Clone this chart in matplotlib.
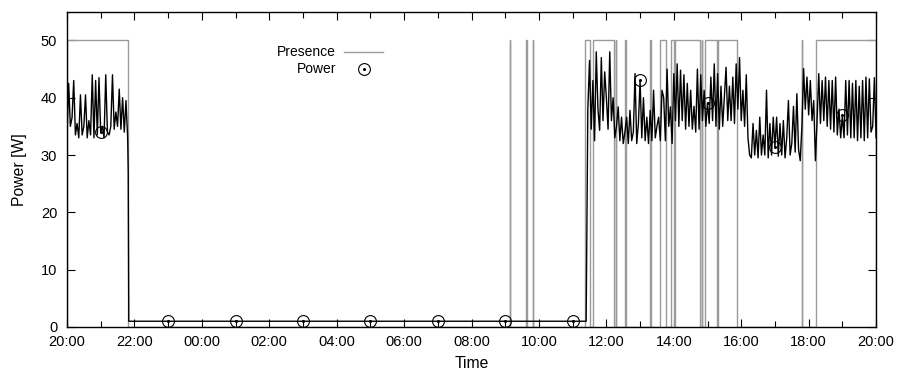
import pandas as pd
import matplotlib
matplotlib.use('Agg')
import matplotlib.pyplot as plt
import matplotlib.dates as mdates

plt.rcParams['font.family'] = ['Liberation Sans', 'DejaVu Sans']

# presence sensor: 50 while somebody is there, 0 otherwise
presence_level = 50
presence_on = ['2012-03-01 20:00', '2012-03-02 09:08', '2012-03-02 09:37', '2012-03-02 09:49',
               '2012-03-02 11:22', '2012-03-02 11:37', '2012-03-02 12:17', '2012-03-02 12:34',
               '2012-03-02 13:18', '2012-03-02 13:36', '2012-03-02 13:55', '2012-03-02 14:02',
               '2012-03-02 14:50', '2012-03-02 14:55', '2012-03-02 15:19', '2012-03-02 17:48',
               '2012-03-02 18:13']
presence_off = ['2012-03-01 21:49', '2012-03-02 09:09', '2012-03-02 09:38', '2012-03-02 09:50',
                '2012-03-02 11:30', '2012-03-02 12:14', '2012-03-02 12:18', '2012-03-02 12:35',
                '2012-03-02 13:19', '2012-03-02 13:47', '2012-03-02 14:01', '2012-03-02 14:47',
                '2012-03-02 14:51', '2012-03-02 15:17', '2012-03-02 15:52', '2012-03-02 17:49',
                '2012-03-02 20:00']

# power readings, one every 3 minutes
step = '3min'
evening_start = '2012-03-01 20:00'
power_evening = [33, 42.5, 35, 36.5, 43, 33.5, 35.5, 33, 40.5, 33.5,
                 35, 40.5, 33, 36, 33.5, 44, 33, 43, 33.5, 43.5,
                 34, 35, 33, 44, 34, 33.5, 35, 44, 34.5, 37.5,
                 35, 41.5, 34.5, 40, 34, 39.5, 33]
drop_times = ['2012-03-01 21:49', '2012-03-01 21:50']
power_drop = [27, 1]
day_start = '2012-03-02 11:24'
power_day = [1, 38, 46.5, 34.5, 43, 32.5, 48, 38, 34.3, 47,
             36, 44.5, 40, 34.5, 48, 36, 40, 33, 35, 38.4,
             32.5, 36.6, 32, 34, 36.6, 32, 37.8, 32.5, 34, 44.2,
             32, 35.5, 43, 33, 40, 32.5, 36.6, 32, 37.8, 32.5,
             41.3, 33, 35, 36.6, 32.5, 41.3, 40, 32.5, 45, 35,
             38.4, 32, 44.2, 36, 45.9, 35, 44.8, 36, 44, 34.5,
             42.5, 35, 41.3, 34.5, 38.5, 34, 45, 34.5, 44, 36,
             41.3, 35, 39.1, 35.5, 43.6, 36, 45.9, 35, 44.2, 34.5,
             42, 35, 40, 45.3, 36, 42, 36, 43.6, 35.5, 45.9,
             38, 47, 36, 41.3, 35, 44, 33, 30, 29.5, 35.5,
             30, 34.3, 29.5, 36.6, 30, 33.5, 30, 41.3, 29.5, 35.5,
             30, 36.6, 31.4, 36.6, 29.8, 35.5, 30, 36, 29.5, 33,
             39.5, 30, 32, 38.5, 30.5, 40.7, 31, 29, 35, 45.1,
             38, 43.6, 37, 43, 36, 39.5, 29, 36, 44.2, 35.5,
             43, 36, 43.6, 35, 43, 34.5, 43, 34, 43.6, 33.5,
             38, 33, 36.9, 33, 43, 33.5, 43, 33, 42.5, 33,
             43, 32.5, 42, 33, 43, 32.5, 43.6, 33, 43.3, 34,
             35, 43.5, 33]

marker_times = ['2012-03-01 21:00', '2012-03-01 23:00', '2012-03-02 01:00', '2012-03-02 03:00',
                '2012-03-02 05:00', '2012-03-02 07:00', '2012-03-02 09:00', '2012-03-02 11:00',
                '2012-03-02 13:00', '2012-03-02 15:00', '2012-03-02 17:00', '2012-03-02 19:00']
marker_values = [34, 1, 1, 1, 1, 1, 1, 1, 43.1, 39.1, 31.4, 36.9]

# build the series
t_power = list(pd.date_range(evening_start, periods=len(power_evening), freq=step))
t_power += list(pd.to_datetime(drop_times))
t_power += list(pd.date_range(day_start, periods=len(power_day), freq=step))
power = power_evening + power_drop + power_day

t_pres, pres = [], []
for on, off in zip(presence_on, presence_off):
    on, off = pd.Timestamp(on), pd.Timestamp(off)
    t_pres += [on, on, off, off]
    pres += [0, presence_level, presence_level, 0]

fig = plt.figure(figsize=(8.99, 3.78), dpi=100)
ax = fig.add_axes([0.0745, 0.135, 0.9, 0.834])

ax.plot(t_pres, pres, color='#9a9a9a', lw=1.0, zorder=2)
ax.plot(t_power, power, color='black', lw=1.0, zorder=3)
mt = pd.to_datetime(marker_times)
ax.plot(mt, marker_values, ls='none', marker='o', ms=8.5, mfc='none', mec='black', mew=0.8, zorder=4)
ax.plot(mt, marker_values, ls='none', marker='o', ms=1.2, color='black', zorder=4)

ax.set_xlim(pd.Timestamp('2012-03-01 20:00'), pd.Timestamp('2012-03-02 20:00'))
ax.set_ylim(0, 55)
ax.set_yticks([0, 10, 20, 30, 40, 50])
ax.xaxis.set_major_locator(mdates.HourLocator(byhour=range(0, 24, 2)))
ax.xaxis.set_minor_locator(mdates.HourLocator())
ax.xaxis.set_major_formatter(mdates.DateFormatter('%H:%M'))

ax.tick_params(which='both', direction='in', top=True, right=True, width=0.8, labelsize=10.5)
ax.tick_params(which='major', length=6)
ax.tick_params(which='minor', length=4)
ax.tick_params(axis='x', pad=6)
ax.tick_params(axis='y', pad=7)
for s in ax.spines.values():
    s.set_linewidth(1.0)

ax.set_xlabel('Time', fontsize=11.3, labelpad=5)
ax.set_ylabel('Power [W]', fontsize=11.3, labelpad=10)

# key drawn gnuplot style: right aligned text, sample on the right
ax.text(0.3325, 0.873, 'Presence', transform=ax.transAxes, ha='right', va='center', fontsize=10)
ax.text(0.3325, 0.818, 'Power', transform=ax.transAxes, ha='right', va='center', fontsize=10)
ax.plot([0.342, 0.3906], [0.873, 0.873], transform=ax.transAxes, color='#9a9a9a', lw=1.0)
ax.plot([0.367], [0.818], transform=ax.transAxes, marker='o', ms=8.5, mfc='none', mec='black', mew=0.8)
ax.plot([0.367], [0.818], transform=ax.transAxes, marker='o', ms=1.2, color='black')

fig.savefig('out.png', dpi=100)
